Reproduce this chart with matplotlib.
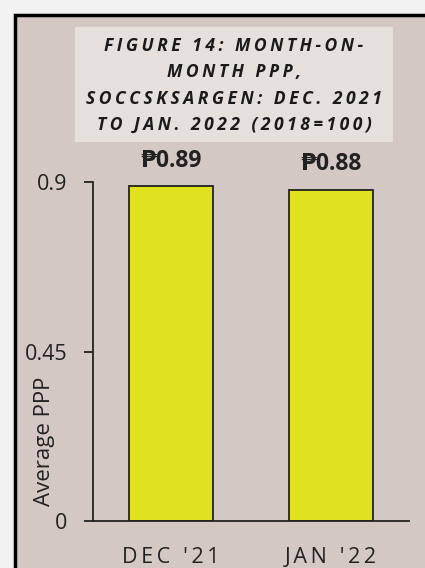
import matplotlib.pyplot as plt
from matplotlib.patches import Rectangle

# ===== DATA ===== #
months = ["DEC '21", "JAN '22"]
ppp = [0.89, 0.88]
value_labels = ["₱0.89", "₱0.88"]
yticks = [0, 0.45, 0.9]
ytick_labels = ["0", "0.45", "0.9"]
title_lines = ["FIGURE 14: MONTH-ON-", "MONTH PPP,",
               "SOCCSKSARGEN: DEC. 2021", "TO JAN. 2022 (2018=100)"]

fonts = ['Open Sans', 'DejaVu Sans']
plt.rcParams['font.family'] = fonts


def spaced(s):
    # crude letter spacing with thin spaces
    return "\u2009".join(s)


fig = plt.figure(figsize=(4.25, 5.68), dpi=100)
fig.patch.set_facecolor('#f2f2f2')

# panel with black border, running off the right and bottom edges
fig.patches.append(Rectangle((15 / 425, -0.1), 1.2, 1 - 15 / 568 + 0.1,
                             transform=fig.transFigure, facecolor='#d3c8c4',
                             edgecolor='black', linewidth=2.5, zorder=0))
# title box
fig.patches.append(Rectangle((75 / 425, 1 - 142 / 568), 318 / 425, 115 / 568,
                             transform=fig.transFigure, facecolor='#e6e0dd',
                             edgecolor='none', zorder=1))
fig.text(234 / 425, 1 - 85.5 / 568, "\n".join(spaced(l) for l in title_lines),
         ha='center', va='center', fontsize=12.6, fontweight='bold',
         fontstyle='italic', linespacing=1.58, color='#1a1a1a', zorder=2)

ax = fig.add_axes([93 / 425, 1 - 521 / 568, 316 / 425, 339 / 568])
ax.set_zorder(3)
ax.set_facecolor('none')

x = range(len(months))
bars = ax.bar(x, ppp, width=0.525, color='#e0e220', edgecolor='#222222', linewidth=1.3)
for b, lab in zip(bars, value_labels):
    ax.text(b.get_x() + b.get_width() / 2, b.get_height() + 0.035, lab,
            ha='center', va='bottom', fontsize=16.5, fontweight='bold',
            color='#222222', clip_on=False)

ax.set_xlim(-0.4875, 1.4875)
ax.set_ylim(0, 0.9)
ax.set_yticks(yticks)
ax.set_yticklabels(ytick_labels)
ax.set_xticks(list(x))
ax.set_xticklabels([spaced(m) for m in months])
ax.tick_params(axis='y', length=6.5, width=1.3, labelsize=15.5, colors='#222222', pad=12)
ax.tick_params(axis='x', length=0, labelsize=15.5, colors='#222222', pad=19)
for s in ['top', 'right']:
    ax.spines[s].set_visible(False)
for s in ['left', 'bottom']:
    ax.spines[s].set_linewidth(1.3)
    ax.spines[s].set_color('#222222')

ax.set_ylabel("Average PPP", fontsize=16, color='#222222')
ax.yaxis.set_label_coords(-0.12, 0.236)

plt.savefig("out.png", dpi=100, facecolor=fig.get_facecolor())
